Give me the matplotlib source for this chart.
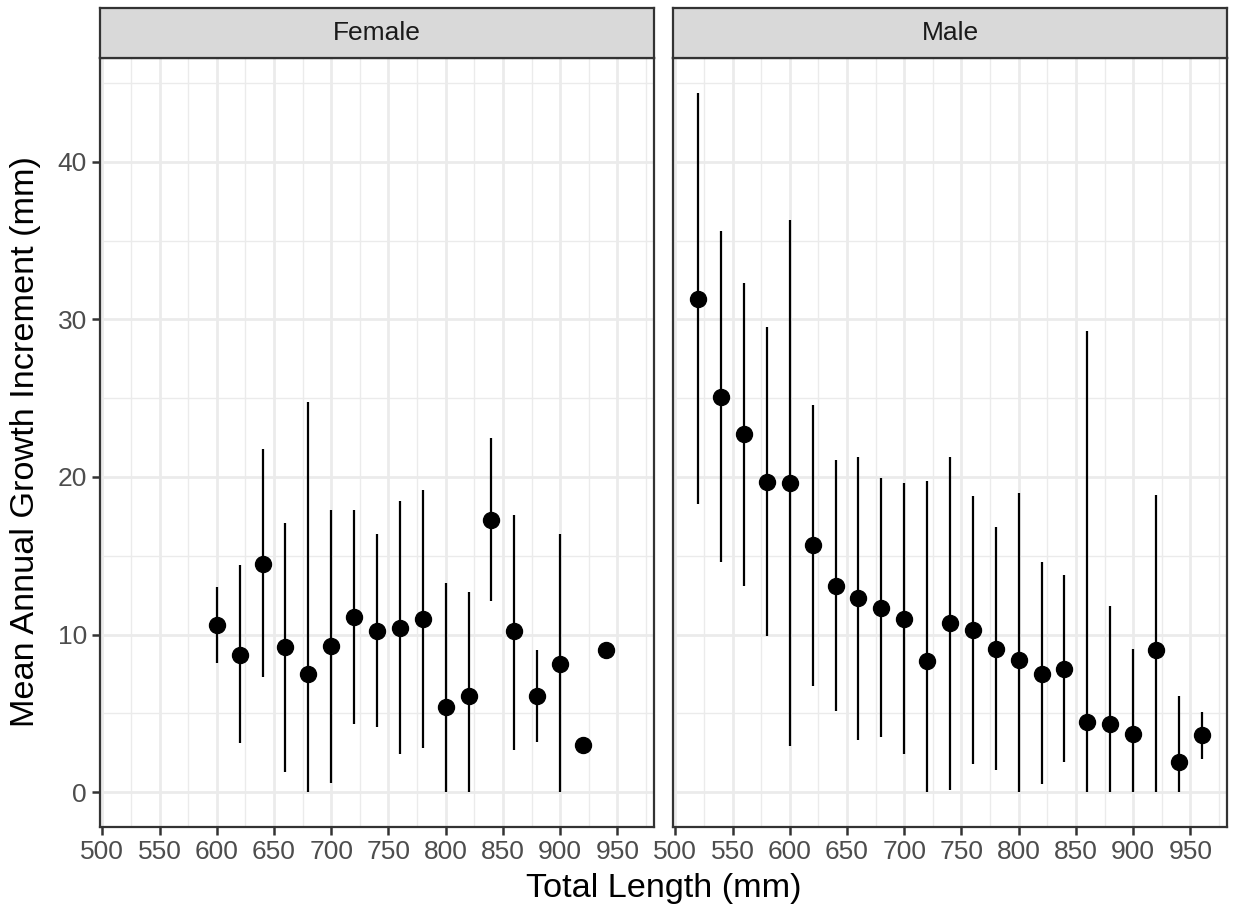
import numpy as np
import matplotlib.pyplot as plt
from matplotlib.ticker import MultipleLocator

plt.rcParams['font.family'] = ['Liberation Sans', 'DejaVu Sans']

# Female: mean annual growth increment by total length class
female_len = [600, 620, 640, 660, 680, 700, 720, 740, 760, 780, 800, 820, 840, 860, 880, 900, 920, 940]
female_mean = [10.6, 8.7, 14.5, 9.2, 7.5, 9.3, 11.1, 10.2, 10.4, 11.0, 5.4, 6.1, 17.3, 10.2, 6.1, 8.1, 3.0, 9.0]
female_lo = [8.2, 3.1, 7.3, 1.3, 0.0, 0.6, 4.3, 4.1, 2.4, 2.8, 0.0, 0.0, 12.15, 2.7, 3.15, 0.0, np.nan, np.nan]
female_hi = [13.0, 14.4, 21.8, 17.1, 24.75, 17.9, 17.9, 16.4, 18.45, 19.2, 13.3, 12.7, 22.5, 17.6, 9.0, 16.4, np.nan, np.nan]

# Male
male_len = [520, 540, 560, 580, 600, 620, 640, 660, 680, 700, 720, 740, 760, 780, 800, 820, 840, 860, 880, 900, 920, 940, 960]
male_mean = [31.3, 25.1, 22.7, 19.7, 19.6, 15.7, 13.1, 12.3, 11.7, 11.0, 8.3, 10.7, 10.3, 9.1, 8.4, 7.5, 7.8, 4.45, 4.3, 3.7, 9.0, 1.9, 3.6]
male_lo = [18.3, 14.6, 13.1, 9.9, 2.9, 6.75, 5.15, 3.3, 3.5, 2.4, 0.0, 0.1, 1.8, 1.4, 0.0, 0.5, 1.9, 0.0, 0.0, 0.0, 0.0, 0.0, 2.1]
male_hi = [44.35, 35.6, 32.3, 29.5, 36.3, 24.6, 21.1, 21.3, 19.95, 19.6, 19.75, 21.3, 18.8, 16.8, 19.0, 14.6, 13.8, 29.25, 11.8, 9.05, 18.85, 6.1, 5.05]

panels = [("Female", female_len, female_mean, female_lo, female_hi),
          ("Male", male_len, male_mean, male_lo, male_hi)]

W, H = 1233, 911
fig = plt.figure(figsize=(W / 100, H / 100), dpi=100)

grey20 = '#333333'
lefts = [100, 673]
width = 554
bottom, top, strip_top = 827, 58, 8

for i, (name, x, m, lo, hi) in enumerate(panels):
    ax = fig.add_axes([lefts[i] / W, 1 - bottom / H, width / W, (bottom - top) / H])
    x = np.array(x)
    m = np.array(m)
    lo = np.array(lo, dtype=float)
    hi = np.array(hi, dtype=float)
    ax.vlines(x, lo, hi, color='black', lw=1.6, zorder=3)
    ax.plot(x, m, 'o', color='black', ms=11.5, zorder=4)

    ax.set_xlim(498, 982)
    ax.set_ylim(-2.22, 46.6)
    ax.xaxis.set_major_locator(MultipleLocator(50))
    ax.xaxis.set_minor_locator(MultipleLocator(25))
    ax.yaxis.set_major_locator(MultipleLocator(10))
    ax.yaxis.set_minor_locator(MultipleLocator(5))
    ax.grid(which='major', color='#EBEBEB', lw=2.0, zorder=0)
    ax.grid(which='minor', color='#EBEBEB', lw=1.0, zorder=0)
    ax.set_axisbelow(True)
    for s in ax.spines.values():
        s.set_color(grey20)
        s.set_linewidth(1.6)
    ax.tick_params(which='major', length=5.5, width=1.8, color=grey20,
                   labelsize=19, labelcolor='#4D4D4D', pad=4)
    ax.tick_params(which='minor', length=0)
    if i == 1:
        ax.tick_params(axis='y', which='both', left=False, labelleft=False)

    # facet strip
    sax = fig.add_axes([lefts[i] / W, 1 - top / H, width / W, (top - strip_top) / H])
    sax.set_facecolor('#D9D9D9')
    sax.set_xticks([])
    sax.set_yticks([])
    for s in sax.spines.values():
        s.set_color(grey20)
        s.set_linewidth(1.6)
    sax.text(0.5, 0.5, name, ha='center', va='center', fontsize=19,
             color='#1A1A1A', transform=sax.transAxes)

fig.text((100 + 1227) / 2 / W, 1 - 888 / H, 'Total Length (mm)', ha='center', va='center', fontsize=24.7)
fig.text(26 / W, 1 - 442 / H, 'Mean Annual Growth Increment (mm)', ha='center', va='center',
         rotation=90, fontsize=24.7)

fig.savefig('out.png', dpi=100)
